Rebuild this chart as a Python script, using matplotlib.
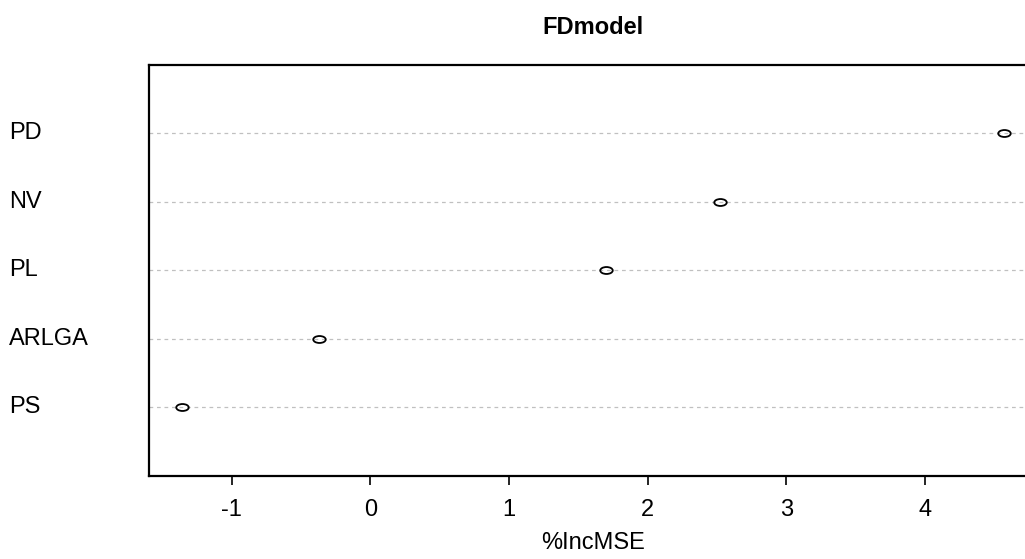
import matplotlib
matplotlib.use('Agg')
import matplotlib.pyplot as plt
from matplotlib.path import Path
from matplotlib.transforms import Affine2D, blended_transform_factory

# variable importance (%IncMSE), bottom to top as drawn
labels = ['PS', 'ARLGA', 'PL', 'NV', 'PD']
inc_mse = [-1.36, -0.37, 1.70, 2.52, 4.57]
xticks = [-1, 0, 1, 2, 3, 4]

plt.rcParams['font.family'] = ['Liberation Sans', 'DejaVu Sans']

W, H = 1025, 559
fig = plt.figure(figsize=(W / 100, H / 100), dpi=100)
fig.patch.set_facecolor('white')

# plot region in pixels (the right edge runs past the figure, as in the source)
left, right, top, bottom = 149, 1037, 65, 475.6
ax = fig.add_axes([left / W, 1 - bottom / H, (right - left) / W, (bottom - top) / H])

ypos = list(range(1, len(labels) + 1))
lo = min(inc_mse) - 0.04 * (max(inc_mse) - min(inc_mse))
hi = max(inc_mse) + 0.04 * (max(inc_mse) - min(inc_mse))
ax.set_xlim(lo, hi)
ax.set_ylim(0, len(labels) + 1)

ax.hlines(ypos, lo, hi, colors='#c0c0c0', linestyles=(0, (3, 3)), linewidth=0.9)

# stretched open circles
ellipse = Path.unit_circle().transformed(Affine2D().scale(1.8, 1.0))
ax.plot(inc_mse, ypos, linestyle='none', marker=ellipse, markersize=9,
        markerfacecolor='none', markeredgecolor='black', markeredgewidth=1.3)

for s in ax.spines.values():
    s.set_linewidth(1.6)
    s.set_color('black')

fs = 17
ax.set_yticks([])
ax.set_xticks(xticks)
ax.set_xticklabels([str(t) for t in xticks], fontsize=fs)
ax.tick_params(axis='x', length=6.5, width=1.2, pad=10, direction='out')

trans = blended_transform_factory(fig.transFigure, ax.transData)
for y, lab in zip(ypos, labels):
    ax.text(9 / W, y, lab, transform=trans, ha='left', va='center', fontsize=fs)

cx = (left + right) / 2 / W
fig.text(cx, 1 - 27 / H, 'FDmodel', ha='center', va='center', fontsize=fs, fontweight='bold')
fig.text(cx, 1 - 543 / H, '%IncMSE', ha='center', va='center', fontsize=fs)

fig.savefig('out.png', dpi=100, facecolor='white')
